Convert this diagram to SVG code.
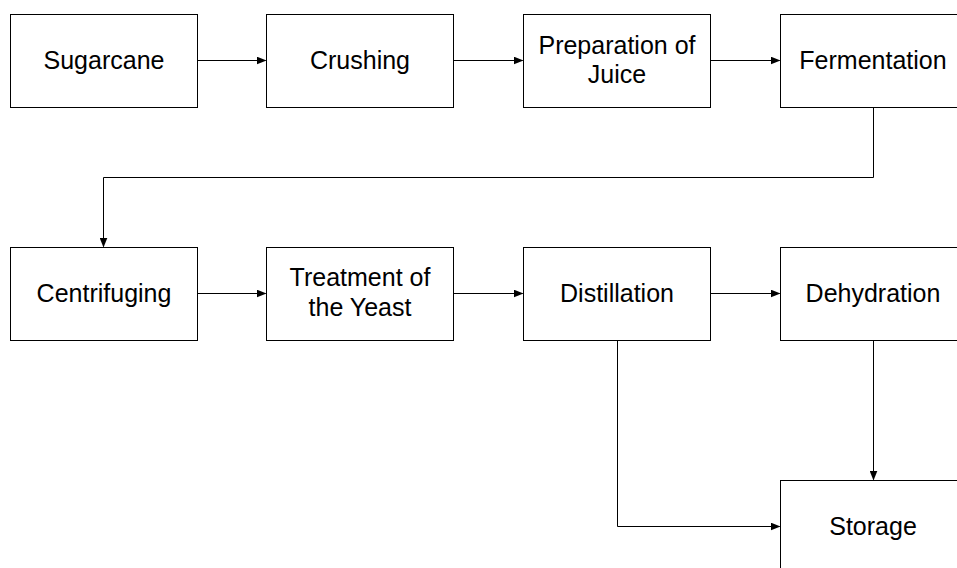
<svg xmlns="http://www.w3.org/2000/svg" width="957" height="568" viewBox="0 0 957 568">
<style>
.box{fill:#fff;stroke:#000;stroke-width:1}
.t{font-family:"Liberation Sans",Arial,sans-serif;font-size:25px;text-anchor:middle;fill:#000}
.c{fill:none;stroke:#000;stroke-width:1}
</style>
<defs>
<marker id="ah" markerWidth="10" markerHeight="8" refX="9" refY="4" orient="auto" markerUnits="userSpaceOnUse">
<path d="M0,0 L10,4 L0,8 Z" fill="#000"/>
</marker>
</defs>
<rect width="957" height="568" fill="#fff"/>
<g id="connectors">
<path class="c" d="M197.5,60.5 H265.5" marker-end="url(#ah)"/>
<path class="c" d="M453.5,60.5 H522.5" marker-end="url(#ah)"/>
<path class="c" d="M710.5,60.5 H779.5" marker-end="url(#ah)"/>
<path class="c" d="M873.5,107.5 V177.5 H103.5 V246.5" marker-end="url(#ah)"/>
<path class="c" d="M197.5,293.5 H265.5" marker-end="url(#ah)"/>
<path class="c" d="M453.5,293.5 H522.5" marker-end="url(#ah)"/>
<path class="c" d="M710.5,293.5 H779.5" marker-end="url(#ah)"/>
<path class="c" d="M617.5,340.5 V526.5 H779.5" marker-end="url(#ah)"/>
<path class="c" d="M873.5,340.5 V479.5" marker-end="url(#ah)"/>
</g>
<g id="sugarcane"><rect class="box" x="10.5" y="14.5" width="187" height="93"/><text class="t" x="104" y="69">Sugarcane</text></g>
<g id="crushing"><rect class="box" x="266.5" y="14.5" width="187" height="93"/><text class="t" x="360" y="69">Crushing</text></g>
<g id="preparation"><rect class="box" x="523.5" y="14.5" width="187" height="93"/><text class="t" x="617" y="54">Preparation of</text><text class="t" x="617" y="83">Juice</text></g>
<g id="fermentation"><rect class="box" x="780.5" y="14.5" width="187" height="93"/><text class="t" x="873" y="69">Fermentation</text></g>
<g id="centrifuging"><rect class="box" x="10.5" y="247.5" width="187" height="93"/><text class="t" x="104" y="302">Centrifuging</text></g>
<g id="treatment"><rect class="box" x="266.5" y="247.5" width="187" height="93"/><text class="t" x="360" y="286">Treatment of</text><text class="t" x="360" y="316">the Yeast</text></g>
<g id="distillation"><rect class="box" x="523.5" y="247.5" width="187" height="93"/><text class="t" x="617" y="302">Distillation</text></g>
<g id="dehydration"><rect class="box" x="780.5" y="247.5" width="187" height="93"/><text class="t" x="873" y="302">Dehydration</text></g>
<g id="storage"><rect class="box" x="780.5" y="480.5" width="187" height="93"/><text class="t" x="873" y="535">Storage</text></g>
</svg>
